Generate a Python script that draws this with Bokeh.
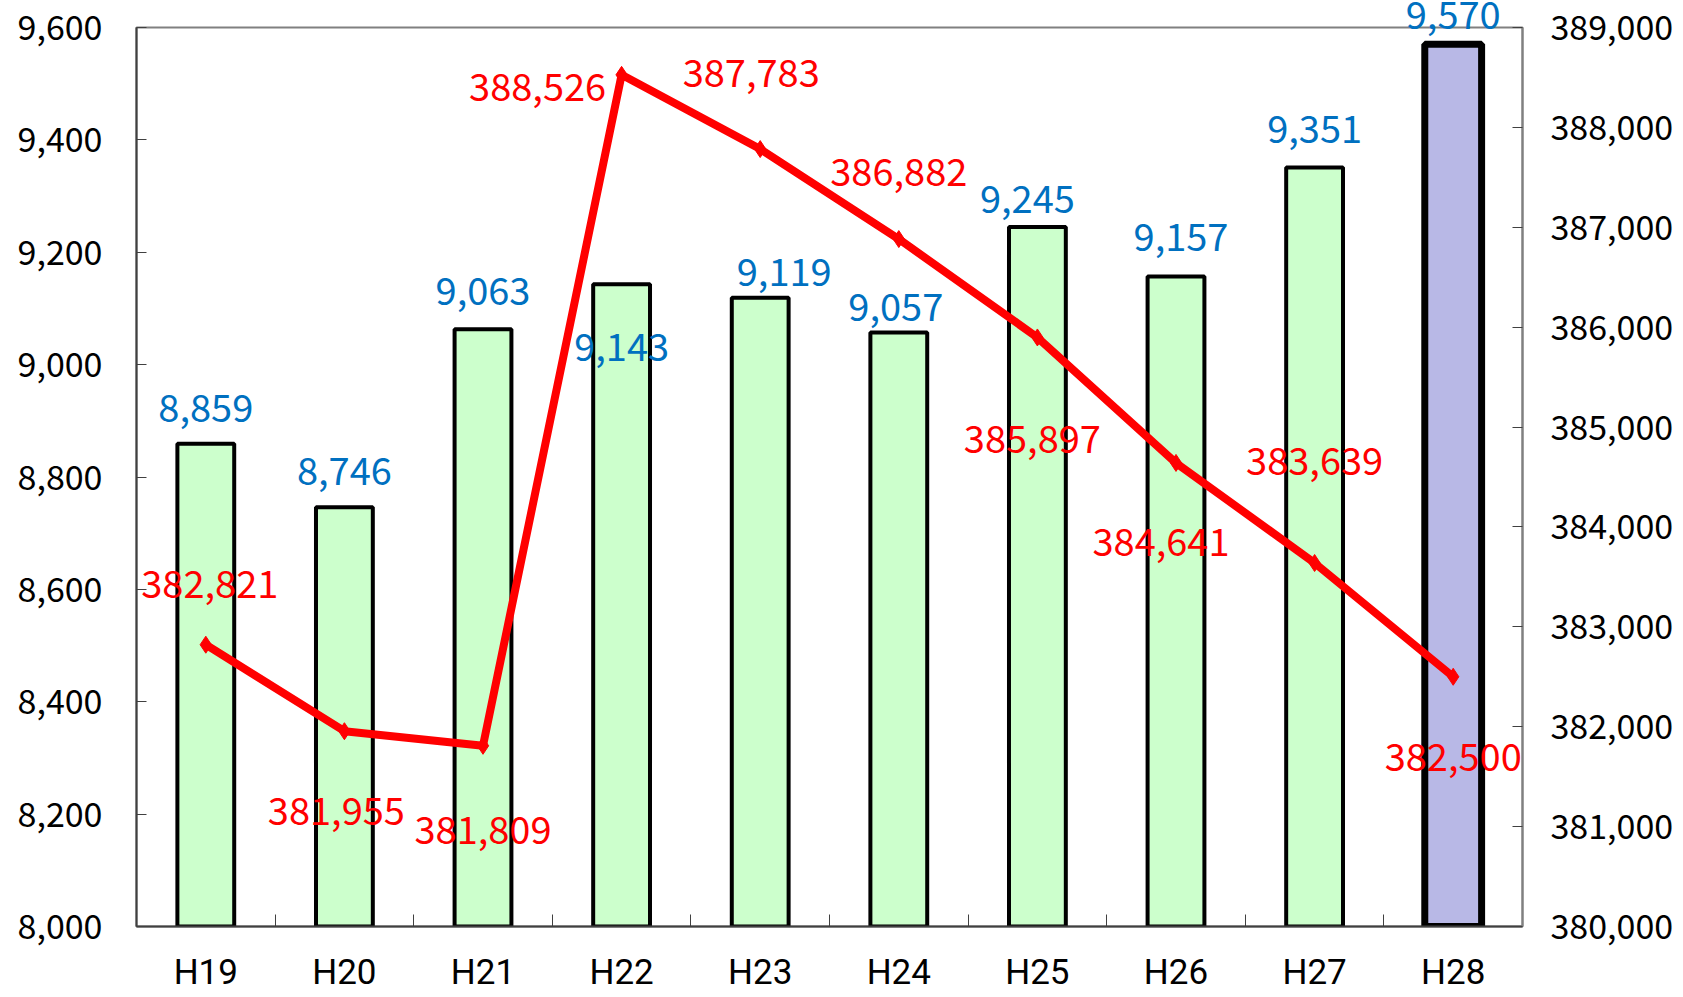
from bokeh.plotting import figure
from bokeh.models import (Range1d, LinearAxis, FixedTicker, NumeralTickFormatter,
                          ColumnDataSource, Label)
from bokeh.embed import file_html
from bokeh.resources import INLINE

# ---- data ----
categories = ["H19", "H20", "H21", "H22", "H23", "H24", "H25", "H26", "H27", "H28"]
bar_values = [8859, 8746, 9063, 9143, 9119, 9057, 9245, 9157, 9351, 9570]
line_values = [382821, 381955, 381809, 388526, 387783, 386882, 385897, 384641, 383639, 382500]
left_ticks = [8000, 8200, 8400, 8600, 8800, 9000, 9200, 9400, 9600]
right_ticks = [380000, 381000, 382000, 383000, 384000, 385000, 386000, 387000, 388000, 389000]

# ---- styles / label placement (pixels) ----
bar_fill = ["#ccffcc"] * 9 + ["#b8b8e6"]
bar_lw = [4] * 9 + [7]
bar_lab_dx = [0, 0, 0, 0, 24, -3, -10, 5, 0, 0]
bar_lab_dy = [36, 36, 38, -63, 26, 26, 28, 39, 38, 38]
line_lab_dx = [4, -8, 0, -84, -9, 0, -5, -15, 0, 0]
line_lab_dy = [61, -80, -84, -12, 76, 67, -102, -79, 102, -80]

FONT = "Noto Sans CJK JP"
idx = list(range(len(categories)))
TOP_EXTRA = 43   # part of the canvas pushed above the page top

src = ColumnDataSource(dict(x=idx, bar=bar_values, line=line_values,
                            fill=bar_fill, lw=bar_lw))

p = figure(width=1683, height=997 + TOP_EXTRA, output_backend="svg",
           toolbar_location=None,
           x_range=Range1d(-0.5, len(categories) - 0.5),
           y_range=Range1d(left_ticks[0], left_ticks[-1]),
           min_border_left=136, min_border_right=161, min_border_top=27 + TOP_EXTRA,
           min_border_bottom=71, margin=(-TOP_EXTRA, 0, 0, 0))
p.extra_y_ranges = {"right": Range1d(right_ticks[0], right_ticks[-1])}
p.xgrid.grid_line_color = None
p.ygrid.grid_line_color = None
p.outline_line_color = "#808080"
p.outline_line_width = 2
p.background_fill_color = "white"
p.border_fill_color = "white"

p.vbar(x="x", top="bar", bottom=left_ticks[0], width=0.41, source=src,
       fill_color="fill", line_color="black", line_width="lw")

p.line(x="x", y="line", source=src, y_range_name="right", line_color="#ff0000",
       line_width=8)
p.scatter(x="x", y="line", source=src, y_range_name="right", marker="diamond",
          size=17, fill_color="#ff0000", line_color="#ff0000")

# bottom axis (configure before any other x axis is added)
xa = p.below[0]
xa.ticker = FixedTicker(ticks=idx, minor_ticks=[i + 0.5 for i in idx[:-1]])
xa.major_label_overrides = {i: c for i, c in zip(idx, categories)}
xa.major_tick_in = 0
xa.major_tick_out = 0
xa.minor_tick_in = 12
xa.minor_tick_out = 0
xa.minor_tick_line_color = "#404040"
xa.axis_line_color = "#404040"
xa.axis_line_width = 2
xa.major_label_text_font = "Roboto"
xa.major_label_text_font_size = "35px"
xa.major_label_text_color = "black"
xa.major_label_standoff = 25

# left axis
ya = p.left[0]
ya.ticker = FixedTicker(ticks=left_ticks)
ya.formatter = NumeralTickFormatter(format="0,0")
ya.major_tick_in = 10
ya.major_tick_out = 0
ya.minor_tick_line_color = None
ya.axis_line_color = "#404040"
ya.axis_line_width = 2
ya.major_tick_line_color = "#404040"
ya.major_label_text_font = FONT
ya.major_label_text_font_size = "34px"
ya.major_label_text_color = "black"
ya.major_label_standoff = 34

# right axis
ra = LinearAxis(y_range_name="right", ticker=FixedTicker(ticks=right_ticks),
                formatter=NumeralTickFormatter(format="0,0"))
ra.major_tick_in = 10
ra.major_tick_out = 0
ra.minor_tick_line_color = None
ra.axis_line_color = "#808080"
ra.axis_line_width = 2
ra.major_tick_line_color = "#404040"
ra.major_label_text_font = FONT
ra.major_label_text_font_size = "34px"
ra.major_label_text_color = "black"
ra.major_label_standoff = 28
p.add_layout(ra, "right")

# value labels; a bar label that sits above the plot frame is drawn by a top axis
outside = [i for i in idx
           if (left_ticks[-1] - bar_values[i]) * 900 / (left_ticks[-1] - left_ticks[0])
           < bar_lab_dy[i] - 15]
for i in idx:
    if i not in outside:
        p.add_layout(Label(x=i, y=bar_values[i], text=f"{bar_values[i]:,}",
                           x_offset=bar_lab_dx[i], y_offset=bar_lab_dy[i],
                           text_align="center", text_baseline="middle", level="overlay",
                           text_font=FONT, text_font_size="38px", text_color="#0070c0"))
    p.add_layout(Label(x=i, y=line_values[i], y_range_name="right",
                       text=f"{line_values[i]:,}",
                       x_offset=line_lab_dx[i], y_offset=line_lab_dy[i],
                       text_align="center", text_baseline="middle", level="overlay",
                       text_font=FONT, text_font_size="38px", text_color="#ff0000"))

ta = LinearAxis(ticker=FixedTicker(ticks=outside, minor_ticks=[]))
ta.major_label_overrides = {i: f"{bar_values[i]:,}" for i in outside}
ta.axis_line_color = None
ta.major_tick_line_color = None
ta.minor_tick_line_color = None
ta.major_tick_in = 0
ta.major_tick_out = 0
ta.major_label_text_font = FONT
ta.major_label_text_font_size = "38px"
ta.major_label_text_color = "#0070c0"
ta.major_label_standoff = -1
p.add_layout(ta, "above")

open("out.html", "w").write(file_html(p, INLINE))
